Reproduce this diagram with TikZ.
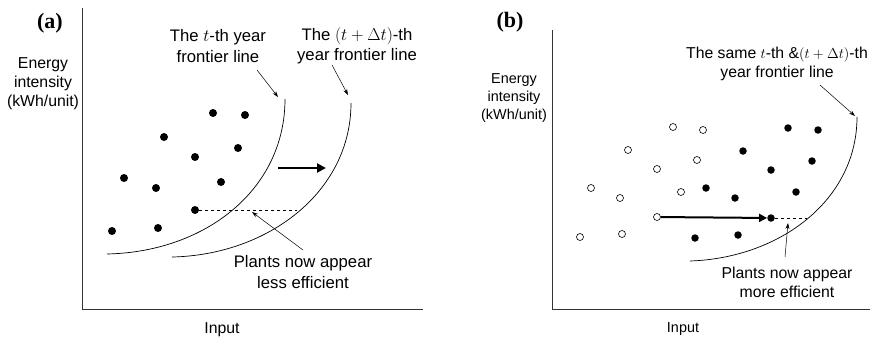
\documentclass[tikz,border=0pt]{standalone}
\usepackage{fontspec}
\setmainfont{Liberation Sans}
\newfontfamily\panelfont{Liberation Serif}
\usetikzlibrary{arrows.meta}

\begin{document}
\begin{tikzpicture}[x=1pt, y=-1pt,
    lbl/.style={align=center, inner sep=0pt, font=\fontsize{16.7}{20.5}\selectfont},
    axlbl/.style={align=center, inner sep=0pt, font=\fontsize{15.8}{19}\selectfont},
    lblb/.style={align=center, inner sep=0pt, font=\fontsize{15.8}{19}\selectfont},
    axlblb/.style={align=center, inner sep=0pt, font=\fontsize{14.4}{18}\selectfont},
    tag/.style={inner sep=0pt, font=\panelfont\bfseries\fontsize{22}{22}\selectfont},
    dot/.style={circle, fill=black, inner sep=0pt, minimum size=8pt},
    odot/.style={circle, draw=black, fill=white, inner sep=0pt, minimum size=7pt, line width=0.6pt},
    axis/.style={line width=0.7pt, draw=black!80},
    frontier/.style={line width=0.7pt},
    ptr/.style={-{Stealth[length=6pt,width=4pt]}, line width=0.5pt},
    shiftarr/.style={-{Triangle[length=9pt,width=9pt]}, line width=2.4pt}
  ]
  \useasboundingbox (0,0) rectangle (876,338);

  % ---- panel (a)
  \node[tag] (taga) at (50,23) {(a)};
  \coordinate (oa) at (82,309);
  \draw[axis] (82,8) -- (oa) -- (423,309);
  \node[axlbl] (ya) at (43,84) {Energy\\intensity\\(kWh/unit)};
  \node[axlbl] (xa) at (222,330) {Input};
  \node[lbl] (fta) at (218,46) {The $t$-th year\\frontier line};
  \node[lbl] (ftb) at (357,46) {The $(t+\Delta t)$-th\\year frontier line};
  \node[lbl] (less) at (303,272) {Plants now appear\\less efficient};

  \coordinate (c1s) at (107,254);
  \coordinate (c1e) at (285,99);
  \coordinate (c2s) at (172,257);
  \coordinate (c2e) at (351,103);
  \draw[frontier] (c1s) .. controls (205,252) and (285,190) .. (c1e);
  \draw[frontier] (c2s) .. controls (268,255) and (351,192) .. (c2e);

  \foreach \n/\x/\y in {1/213/113, 2/245/115, 3/164/137, 4/238/148, 5/195/157,
                        6/124/178, 7/156/188, 8/221/182, 9/195/210, 10/112/231, 11/158/228}
    \node[dot] (pa\n) at (\x,\y) {};

  \coordinate (da) at (297,210);
  \draw[dashed, line width=0.5pt] (pa9) -- (da);
  \coordinate (sa1) at (278,168);
  \coordinate (sa2) at (326,168);
  \draw[shiftarr] (sa1) -- (sa2);

  \coordinate (pta) at (257,70);
  \coordinate (ptb) at (332,65);
  \coordinate (pl1) at (303,250);
  \coordinate (pl2) at (252,212);
  \draw[ptr] (pta) -- (278,97);
  \draw[ptr] (ptb) -- (348,95);
  \draw[ptr] (pl1) -- (pl2);

  % ---- panel (b)
  \node[tag] (tagb) at (510,22) {(b)};
  \coordinate (ob) at (552,309);
  \draw[axis] (552,30) -- (ob) -- (870,309);
  \node[axlblb] (yb) at (514,98) {Energy\\intensity\\(kWh/unit)};
  \node[axlblb] (xb) at (683,329) {Input};
  \node[lblb] (ftc) at (777,64) {The same $t$-th \&$(t+\Delta t)$-th\\year frontier line};
  \node[lblb] (more) at (787,282) {Plants now appear\\more efficient};

  \coordinate (c3s) at (690,261);
  \coordinate (c3e) at (857,117);
  \draw[frontier] (c3s) .. controls (780,258) and (857,200) .. (c3e);

  \foreach \n/\x/\y in {1/673/127, 2/703/130, 3/628/150, 4/697/160, 5/657/169, 6/591/188,
                        7/620/198, 8/681/192, 9/657/217, 10/580/237, 11/622/234}
    \node[odot] (ob\n) at (\x,\y) {};
  \foreach \n/\x/\y in {1/788/128, 2/818/130, 3/743/151, 4/812/161, 5/771/170, 6/706/188,
                        7/735/198, 8/796/192, 9/771/218, 10/695/238, 11/738/235}
    \node[dot, minimum size=7.5pt] (fb\n) at (\x,\y) {};

  \draw[shiftarr, line width=2pt, -{Triangle[length=8pt,width=8pt]}] (ob9) -- (fb9);
  \coordinate (db) at (807,218);
  \draw[dashed, line width=0.5pt] (fb9) -- (db);

  \coordinate (ptc) at (820,85);
  \coordinate (pm1) at (785,257);
  \coordinate (pm2) at (788,223);
  \draw[ptr] (ptc) -- (855,116);
  \draw[ptr] (pm1) -- (pm2);
\end{tikzpicture}
\end{document}
